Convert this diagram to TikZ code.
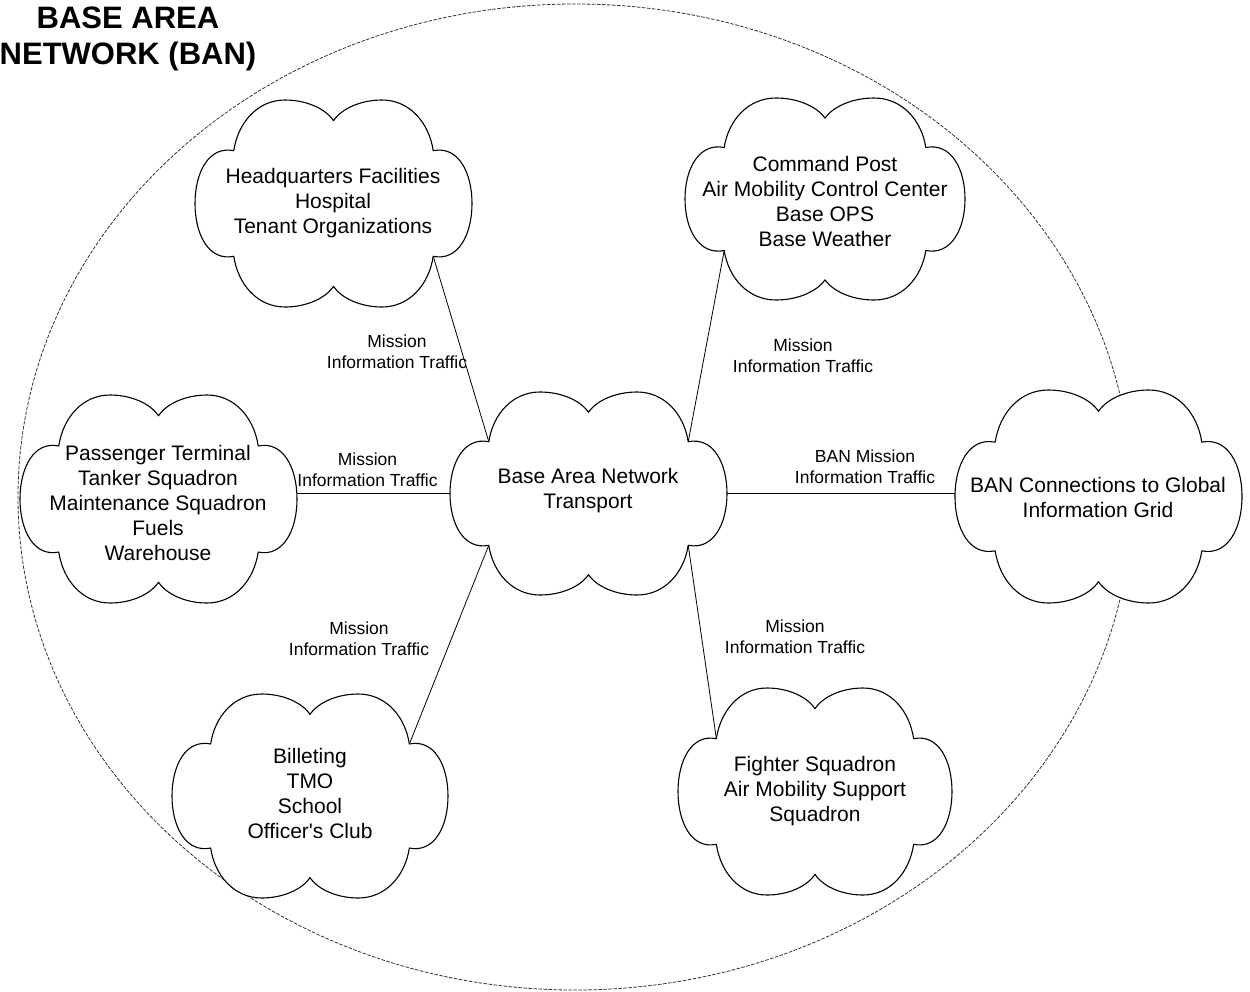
\documentclass[tikz,border=0pt]{standalone}
\usepackage{fontspec}
\setmainfont{Liberation Sans}[Ligatures=TeXOff]
\begin{document}
\begin{tikzpicture}[x=1pt,y=-1pt,
  cloudline/.style={draw=black,line width=1.1pt,fill=white,line join=round},
  conn/.style={draw=black,line width=0.8pt},
  boundary/.style={draw=black!80,line width=0.8pt,dash pattern=on 3.5pt off 1.5pt},
  cloudtext/.style={align=center,inner sep=0pt,font=\fontsize{21}{25}\selectfont},
  linklabel/.style={align=center,inner sep=0pt,font=\fontsize{17.5}{21}\selectfont},
  titletext/.style={align=center,inner sep=0pt,font=\fontsize{31}{36}\selectfont\bfseries}]
\useasboundingbox (0,0) rectangle (1250,991);
% cloud macro: #1 name, #2 cx, #3 cy, #4 a, #5 b
\newcommand\mycloud[5]{%
  \begin{scope}[shift={(#2,#3)},x=#4pt,y=-#5pt]
    \path[cloudline] (-0.72,-0.51)
      .. controls (-0.69,-0.78) and (-0.55,-1.0) .. (-0.35,-1.0)
      .. controls (-0.2,-1.0) and (-0.06,-0.92) .. (0,-0.8)
      .. controls (0.06,-0.92) and (0.2,-1.0) .. (0.35,-1.0)
      .. controls (0.55,-1.0) and (0.69,-0.78) .. (0.72,-0.51)
      .. controls (0.9,-0.56) and (1.0,-0.3) .. (1.0,0)
      .. controls (1.0,0.3) and (0.9,0.56) .. (0.72,0.51)
      .. controls (0.69,0.78) and (0.55,1.0) .. (0.35,1.0)
      .. controls (0.2,1.0) and (0.06,0.92) .. (0,0.8)
      .. controls (-0.06,0.92) and (-0.2,1.0) .. (-0.35,1.0)
      .. controls (-0.55,1.0) and (-0.69,0.78) .. (-0.72,0.51)
      .. controls (-0.9,0.56) and (-1.0,0.3) .. (-1.0,0)
      .. controls (-1.0,-0.3) and (-0.9,-0.56) .. (-0.72,-0.51) -- cycle;
    \coordinate (#1-nw) at (-0.72,-0.51);
    \coordinate (#1-ne) at (0.72,-0.51);
    \coordinate (#1-sw) at (-0.72,0.51);
    \coordinate (#1-se) at (0.72,0.51);
    \coordinate (#1-w) at (-1.0,0);
    \coordinate (#1-e) at (1.0,0);
  \end{scope}}
% boundary of the base area network
\draw[boundary] (575,497) ellipse [x radius=557pt, y radius=493pt];
% clouds
\mycloud{hq}{333.5}{203.5}{138.5}{103.5}
\mycloud{cp}{825}{199}{140}{101}
\mycloud{pass}{158.5}{499}{138.5}{104}
\mycloud{base}{588.5}{493.5}{138.5}{101.5}
\mycloud{banc}{1098.5}{496.5}{143.5}{106.5}
\mycloud{bill}{310}{796}{138}{102}
\mycloud{fight}{815}{791.5}{137}{103.5}
% cloud texts
\node[cloudtext] (hqt) at (333,203) {Headquarters Facilities\\Hospital\\Tenant Organizations};
\node[cloudtext] (cpt) at (825,201.5) {Command Post\\Air Mobility Control Center\\Base OPS\\Base Weather};
\node[cloudtext] (passt) at (158,503) {Passenger Terminal\\Tanker Squadron\\Maintenance Squadron\\Fuels\\Warehouse};
\node[cloudtext] (baset) at (588,490.5) {Base Area Network\\Transport};
\node[cloudtext] (banct) at (1098,497.5) {BAN Connections to Global\\Information Grid};
\node[cloudtext] (billt) at (310,793.5) {Billeting\\TMO\\School\\Officer's Club};
\node[cloudtext] (fightt) at (815,791) {Fighter Squadron\\Air Mobility Support\\Squadron};
% connectors
\draw[conn] (hq-se) -- (base-nw);
\draw[conn] (cp-sw) -- (base-ne);
\draw[conn] (base-w) -- (base-w -| pass-e);
\draw[conn] (base-e) -- (base-e -| banc-w);
\draw[conn] (bill-ne) -- (base-sw);
\draw[conn] (fight-nw) -- (base-se);
% connector labels
\node[linklabel] (l1) at (397,352) {Mission\\Information Traffic};
\node[linklabel] (l2) at (803,355.5) {Mission\\Information Traffic};
\node[linklabel] (l3) at (367.5,469.5) {Mission\\Information Traffic};
\node[linklabel] (l4) at (865,466.5) {BAN Mission\\Information Traffic};
\node[linklabel] (l5) at (359,638.5) {Mission\\Information Traffic};
\node[linklabel] (l6) at (795,636.5) {Mission\\Information Traffic};
% title
\node[titletext] (title) at (128,39) {BASE AREA\\NETWORK (BAN)};
\end{tikzpicture}
\end{document}
